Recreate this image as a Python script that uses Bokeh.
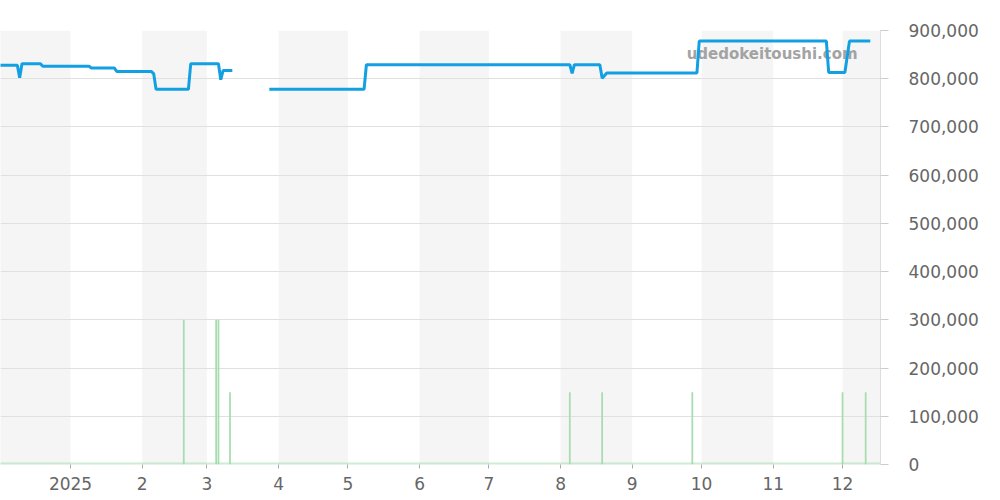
from datetime import datetime
import numpy as np
import pandas as pd
from bokeh.plotting import figure
from bokeh.models import (BoxAnnotation, Span, FixedTicker, NumeralTickFormatter,
                          SingleIntervalTicker, Range1d, Label)
from bokeh.embed import file_html
from bokeh.resources import INLINE

# ---- data ----
price_dates = ["2024-12-01", "2024-12-09", "2024-12-10", "2024-12-11", "2024-12-19",
               "2024-12-20", "2025-01-09", "2025-01-10", "2025-01-20", "2025-01-21",
               "2025-02-05", "2025-02-06", "2025-02-07", "2025-02-21", "2025-02-22",
               "2025-03-06", "2025-03-07", "2025-03-08", "2025-03-12", "2025-03-20",
               "2025-03-28", "2025-05-08", "2025-05-09", "2025-08-05", "2025-08-06",
               "2025-08-07", "2025-08-18", "2025-08-19", "2025-08-21", "2025-09-29",
               "2025-09-30", "2025-11-24", "2025-11-25", "2025-12-02", "2025-12-04",
               "2025-12-13"]
price_values = [828000, 828000, 802000, 831000, 831000,
                826000, 826000, 822000, 822000, 815000,
                815000, 810000, 778000, 778000, 831000,
                831000, 798000, 817000, 817000, np.nan,
                778000, 778000, 829000, 829000, 811000,
                829000, 829000, 801000, 812000, 812000,
                878000, 878000, 813000, 813000, 878000,
                878000]

trade_dates = ["2025-02-19", "2025-03-05", "2025-03-06", "2025-03-11", "2025-08-05",
               "2025-08-19", "2025-09-27", "2025-12-01", "2025-12-11"]
trade_values = [300000, 300000, 300000, 150000, 150000,
                150000, 150000, 150000, 150000]

tick_months = ["2025-01-01", "2025-02-01", "2025-03-01", "2025-04-01", "2025-05-01",
               "2025-06-01", "2025-07-01", "2025-08-01", "2025-09-01", "2025-10-01",
               "2025-11-01", "2025-12-01"]
tick_labels = ["2025", "2", "3", "4", "5", "6", "7", "8", "9", "10", "11", "12"]

shaded_starts = ["2024-12-01", "2025-02-01", "2025-04-01", "2025-06-01",
                 "2025-08-01", "2025-10-01", "2025-12-01"]
shaded_ends = ["2025-01-01", "2025-03-01", "2025-05-01", "2025-07-01",
               "2025-09-01", "2025-11-01", "2026-01-01"]

x_start = datetime(2024, 12, 1, 17)
x_end = datetime(2025, 12, 17, 10)

FONT = "DejaVu Sans"
DAY_MS = 86400000


def ms(s):
    return int(pd.Timestamp(s).value // 10**6)


p = figure(width=1000, height=500, x_axis_type="datetime",
           x_range=Range1d(x_start, x_end), y_range=Range1d(0, 900000),
           output_backend="svg", toolbar_location=None, y_axis_location="right",
           min_border_left=0, min_border_right=120, min_border_top=30,
           min_border_bottom=36)
p.outline_line_color = None
p.background_fill_color = "white"

for s, e in zip(shaded_starts, shaded_ends):
    p.add_layout(BoxAnnotation(left=pd.Timestamp(s), right=pd.Timestamp(e),
                               fill_color="#f5f5f5", fill_alpha=1.0,
                               line_color=None, level="image"))

p.xgrid.visible = False
p.ygrid.ticker = SingleIntervalTicker(interval=100000)
p.ygrid.grid_line_color = "#e0e0e0"
p.ygrid.grid_line_width = 1

# x axis
xa = p.xaxis[0]
xa.ticker = FixedTicker(ticks=[ms(t) for t in tick_months])
xa.major_label_overrides = {ms(t): lab for t, lab in zip(tick_months, tick_labels)}
xa.axis_line_color = None
xa.major_tick_in = 0
xa.major_tick_out = 4
xa.major_tick_line_color = "#aaaaaa"
xa.minor_tick_line_color = None
xa.major_label_text_font = FONT
xa.major_label_text_font_size = "17px"
xa.major_label_text_color = "#666666"
xa.major_label_standoff = 8

# y axis
ya = p.yaxis[0]
ya.ticker = SingleIntervalTicker(interval=100000)
ya.formatter = NumeralTickFormatter(format="0,0")
ya.axis_line_color = "#dddddd"
ya.major_tick_in = 0
ya.major_tick_out = 8
ya.major_tick_line_color = "#cccccc"
ya.minor_tick_line_color = None
ya.major_label_text_font = FONT
ya.major_label_text_font_size = "17px"
ya.major_label_text_color = "#666666"
ya.major_label_standoff = 20

# watermark
p.add_layout(Label(x=pd.Timestamp("2025-12-07 12:00"), y=852000,
                   text="udedokeitoushi.com", text_align="right",
                   text_baseline="middle", text_font=FONT,
                   text_font_style="bold", text_font_size="15px",
                   text_color="#a3a3a3", level="underlay"))

# volume bars
p.vbar(x=pd.to_datetime(trade_dates), top=trade_values, width=0.75 * DAY_MS,
       fill_color="#a6dcae", line_color=None)
p.add_layout(Span(location=0, dimension="width", line_color="#9fd8a8",
                  line_width=4, line_dash="1 1"))

# price line
p.line(x=pd.to_datetime(price_dates), y=price_values, line_color="#13a0e2",
       line_width=3)

open("out.html", "w").write(file_html(p, INLINE))
